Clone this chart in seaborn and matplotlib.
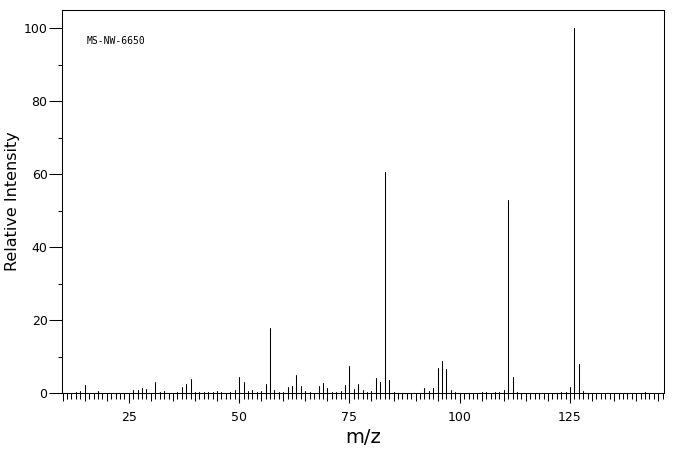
import numpy as np
import pandas as pd
import matplotlib
matplotlib.use("Agg")
import matplotlib.pyplot as plt
from matplotlib.ticker import MultipleLocator, FixedLocator, NullFormatter
import seaborn as sns

# ---- data ----
mz = [13, 14, 15, 18, 26, 27, 28, 29, 31, 32, 33, 36, 37, 38, 39, 40, 41, 42, 43, 44,
      45, 46, 48, 49, 50, 51, 52, 53, 54, 55, 56, 57, 58, 59, 60, 61, 62, 63, 64, 65,
      66, 68, 69, 70, 71, 72, 73, 74, 75, 76, 77, 78, 79, 80, 81, 82, 83, 84, 85, 92,
      93, 94, 95, 96, 97, 98, 99, 105, 106, 108, 109, 110, 111, 112, 113, 123, 124, 125,
      126, 127, 128, 142]
intensity = [0.3, 0.5, 2.2, 0.5, 0.7, 0.7, 1.3, 1.0, 2.9, 0.3, 0.5, 0.2, 1.55, 2.6, 3.75, 0.2, 0.2, 0.2, 0.2, 0.2,
             0.55, 0.27, 0.2, 0.8, 4.4, 3.0, 0.55, 0.8, 0.3, 0.55, 2.5, 17.8, 0.8, 0.3, 0.3, 1.6, 1.9, 4.9, 1.9, 0.55,
             0.3, 1.9, 2.7, 1.4, 0.3, 0.3, 0.55, 2.2, 7.4, 1.1, 2.5, 0.8, 0.3, 0.45, 4.1, 3.0, 60.5, 3.5, 0.2, 1.3,
             0.45, 1.3, 6.8, 8.7, 6.5, 0.7, 0.2, 0.2, 0.2, 0.2, 0.3, 0.7, 52.8, 4.3, 0.2, 0.2, 0.2, 1.55,
             100.0, 8.0, 0.45, 0.2]
x_ticklabels = ["25", "50", "75", "100", "125"]
y_ticklabels = ["0", "20", "40", "60", "80", "100"]
title_text = "MS-NW-6650"

# long-form table: each peak is a two-point segment from the baseline to its intensity
df = pd.DataFrame({
    "m/z": np.repeat(mz, 2),
    "Relative Intensity": np.ravel(np.column_stack([np.zeros(len(intensity)), intensity])),
    "peak": np.repeat(np.arange(len(mz)), 2),
})

sns.set_style("white")
plt.rcParams["font.family"] = ["DejaVu Sans"]
plt.rcParams["text.color"] = "black"
plt.rcParams["axes.labelcolor"] = "black"
plt.rcParams["xtick.color"] = "black"
plt.rcParams["ytick.color"] = "black"

fig = plt.figure(figsize=(6.76, 4.55), dpi=100)
ax = fig.add_axes([62 / 676, 1 - 393 / 455, 602 / 676, 383 / 455])

sns.lineplot(data=df, x="m/z", y="Relative Intensity", units="peak", estimator=None,
             sort=False, color="black", linewidth=0.75, ax=ax, legend=False)

ax.set_xlim(9.85, 146.3)
ax.set_ylim(0, 105)

for s in ax.spines.values():
    s.set_color("black")
    s.set_linewidth(0.75)

# x axis: ticks every 1 (short), every 5 (medium); labelled ticks every 25 on a secondary axis
ax.xaxis.set_major_locator(MultipleLocator(5))
ax.xaxis.set_minor_locator(MultipleLocator(1))
ax.xaxis.set_major_formatter(NullFormatter())
ax.tick_params(axis="x", which="major", direction="out", length=5.8, width=0.75, color="black", bottom=True)
ax.tick_params(axis="x", which="minor", direction="out", length=4.1, width=0.75, color="black", bottom=True)

sec = ax.secondary_xaxis("bottom")
sec.xaxis.set_major_locator(FixedLocator([25, 50, 75, 100, 125]))
sec.set_xticklabels(x_ticklabels)
sec.tick_params(axis="x", direction="out", length=7.4, width=0.75, color="black",
                labelsize=9, labelcolor="black", pad=5.6)
sec.spines["bottom"].set_visible(False)

# y axis
ax.yaxis.set_major_locator(FixedLocator([0, 20, 40, 60, 80, 100]))
ax.set_yticklabels(y_ticklabels)
ax.yaxis.set_minor_locator(MultipleLocator(10))
ax.tick_params(axis="y", which="major", direction="out", length=9.2, width=0.75, color="black",
               labelsize=9, labelcolor="black", left=True, pad=1.2)
ax.tick_params(axis="y", which="minor", direction="out", length=3.0, width=0.75, color="black", left=True)

ax.set_xlabel("")
ax.set_ylabel("Relative Intensity", fontsize=11.5, labelpad=3, color="black")
sec.set_xlabel("m/z", fontsize=14, labelpad=3, color="black")

ax.text(0.041, 0.919, title_text, transform=ax.transAxes, fontsize=7,
        family=["DejaVu Sans Mono"], va="center", ha="left", color="black")

fig.savefig("out.png", dpi=100)
